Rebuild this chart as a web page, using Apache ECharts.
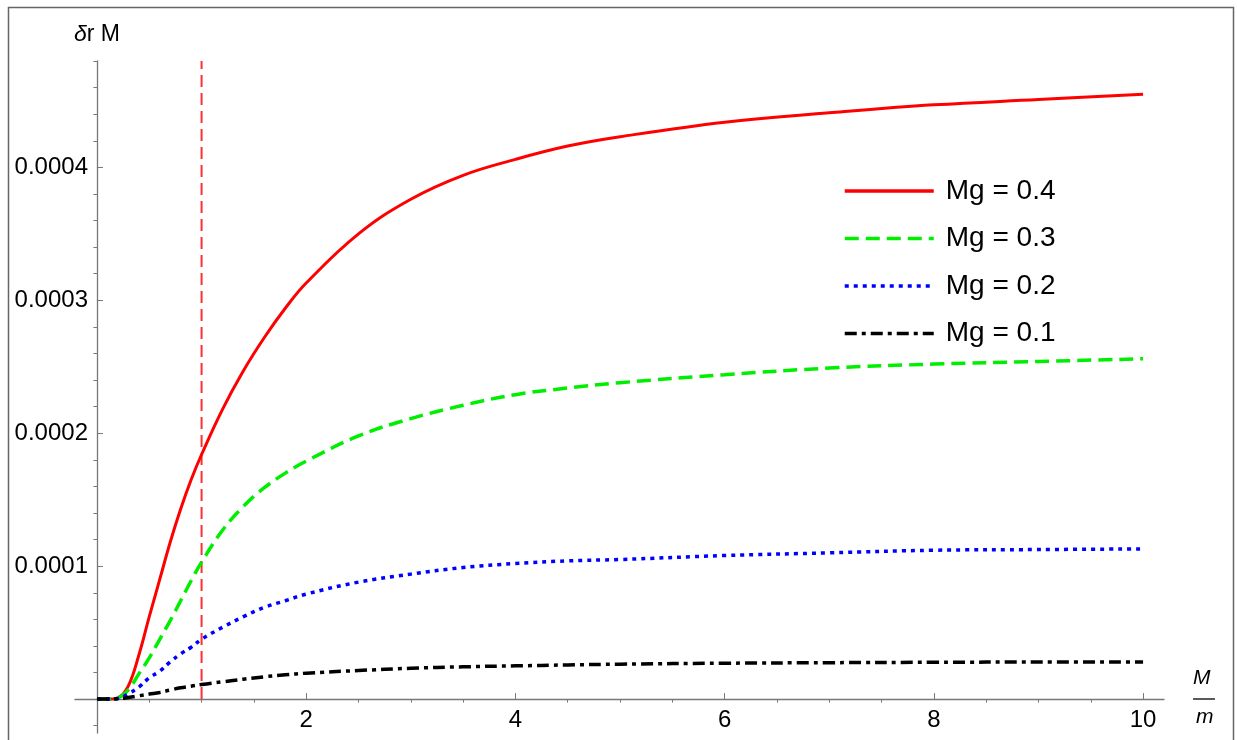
<!DOCTYPE html>
<html>
<head>
<meta charset="utf-8">
<title>δr M vs M/m</title>
<script src="https://cdn.jsdelivr.net/npm/echarts@6/dist/echarts.min.js"></script>
<style>
  html, body { margin: 0; padding: 0; background: #fff; }
  #charts { width: 1237px; height: 740px; }
</style>
</head>
<body>
<div id="charts"></div>
<script>
// x values (M/m)
var xs = [0, 0.1, 0.2, 0.3, 0.4, 0.5, 0.6, 0.7, 0.8, 0.9, 1.0, 1.2, 1.4, 1.6, 1.8, 2.0,
  2.5, 3.0, 3.5, 4.0, 4.5, 5.0, 6.0, 7.0, 8.0, 9.0, 10.0];

// δr M for each Mg
var mg04 = [0, 0, 0.000001, 0.00001, 0.000033, 0.000062, 0.00009, 0.000118, 0.000143, 0.000165,
  0.000184, 0.000218, 0.000247, 0.000272, 0.000294, 0.000313,
  0.00035, 0.000376, 0.000394, 0.000406, 0.000416, 0.000423, 0.000434, 0.000441, 0.000447, 0.000451, 0.000455];
var mg03 = [0, 0, 0.000001, 0.000007, 0.000019, 0.000031, 0.000045, 0.000059, 0.000074, 0.000089,
  0.000103, 0.000127, 0.000145, 0.000159, 0.00017, 0.000179,
  0.000198, 0.000211, 0.000221, 0.000229, 0.000234, 0.000238, 0.000244, 0.000249, 0.000252, 0.000254, 0.000256];
var mg02 = [0, 0, 0.0000005, 0.000004, 0.000009, 0.000016, 0.000021, 0.000028, 0.000034, 0.000039,
  0.000045, 0.000054, 0.000062, 0.000069, 0.000074, 0.000079,
  0.000088, 0.000094, 0.000099, 0.000102, 0.000104, 0.000105, 0.000108, 0.00011, 0.000112, 0.0001125, 0.000113];
var mg01 = [0, 0, 0.0000002, 0.0000012, 0.0000025, 0.0000038, 0.000005, 0.0000068, 0.0000085, 0.0000097,
  0.000011, 0.000013, 0.000015, 0.0000168, 0.0000183, 0.0000195,
  0.0000215, 0.0000232, 0.0000243, 0.000025, 0.0000257, 0.0000263, 0.000027, 0.0000274, 0.0000277, 0.0000279, 0.000028];

// vertical marker at M/m = 1
var markX = [1, 1];
var markY = [0, 0.00048];

// ticks
var xMajor = [2, 4, 6, 8, 10];
var xMinor = [0.5, 1, 1.5, 2.5, 3, 3.5, 4.5, 5, 5.5, 6.5, 7, 7.5, 8.5, 9, 9.5];
var yMajor = [0.0001, 0.0002, 0.0003, 0.0004];
var yMinor = [-0.00002, 0.00002, 0.00004, 0.00006, 0.00008, 0.00012, 0.00014, 0.00016, 0.00018,
  0.00022, 0.00024, 0.00026, 0.00028, 0.00032, 0.00034, 0.00036, 0.00038, 0.00042, 0.00044, 0.00046, 0.00048];

var names = ["Mg = 0.4", "Mg = 0.3", "Mg = 0.2", "Mg = 0.1"];

function pairs(a, b) {
  return a.map(function (v, i) { return [v, b[i]]; });
}

var font = "'Liberation Sans', Arial, sans-serif";
var axisColor = "#777";
var X_MIN = -0.21, X_MAX = 10.2, Y_MIN = -0.0000255, Y_MAX = 0.00048;

var charts = echarts.init(document.getElementById("charts"));

function curve(name, data, color, width, dash) {
  return {
    name: name,
    type: "line",
    data: data,
    smooth: 0.4,
    symbol: "none",
    showSymbol: false,
    lineStyle: { color: color, width: width, type: dash },
    itemStyle: { color: color },
    z: 3
  };
}

var option = {
  backgroundColor: "#fff",
  animation: false,
  textStyle: { fontFamily: font },
  grid: [
    // 坐标轴线 + 刻度 + 曲线
    { left: 75, right: 73, top: 61, bottom: 7, containLabel: false, outerBoundsMode: "none" },
    // 刻度标签 (x = 0 .. 10, y = 0 ..)
    { left: 97, right: 94, top: 61, bottom: 41, containLabel: false, outerBoundsMode: "none" }
  ],
  legend: {
    orient: "vertical",
    left: 838,
    top: 172,
    data: names,
    itemWidth: 89,
    itemHeight: 14,
    itemGap: 19.5,
    itemStyle: { opacity: 0 },
    lineStyle: { width: 3.5 },
    textStyle: { fontSize: 28, color: "#000", fontFamily: font, lineHeight: 27, padding: [0, 0, 0, 7] }
  },
  xAxis: [
    {
      type: "value",
      gridIndex: 0,
      min: X_MIN,
      max: X_MAX,
      splitLine: { show: false },
      axisLine: { show: true, onZero: true, onZeroAxisIndex: 0, lineStyle: { color: axisColor, width: 1.3 } },
      axisTick: { show: true, inside: true, length: 6, customValues: xMajor, lineStyle: { color: axisColor } },
      axisLabel: { show: false }
    },
    {
      type: "value",
      gridIndex: 0,
      min: X_MIN,
      max: X_MAX,
      splitLine: { show: false },
      axisLine: { show: false, onZero: true, onZeroAxisIndex: 0 },
      axisTick: { show: true, inside: true, length: 3.5, customValues: xMinor, lineStyle: { color: axisColor } },
      axisLabel: { show: false }
    },
    {
      type: "value",
      gridIndex: 1,
      min: 0,
      max: 10,
      splitLine: { show: false },
      axisLine: { show: false, onZero: false },
      axisTick: { show: false },
      axisLabel: { show: true, customValues: xMajor, margin: 9, fontSize: 24, color: "#000", fontFamily: font }
    }
  ],
  yAxis: [
    {
      type: "value",
      gridIndex: 0,
      min: Y_MIN,
      max: Y_MAX,
      splitLine: { show: false },
      axisLine: { show: true, onZero: true, onZeroAxisIndex: 0, lineStyle: { color: axisColor, width: 1.3 } },
      axisTick: { show: true, inside: true, length: 6, customValues: yMajor, lineStyle: { color: axisColor } },
      axisLabel: { show: false }
    },
    {
      type: "value",
      gridIndex: 0,
      min: Y_MIN,
      max: Y_MAX,
      splitLine: { show: false },
      axisLine: { show: false, onZero: true, onZeroAxisIndex: 0 },
      axisTick: { show: true, inside: true, length: 3.5, customValues: yMinor, lineStyle: { color: axisColor } },
      axisLabel: { show: false }
    },
    {
      type: "value",
      gridIndex: 1,
      min: 0,
      max: Y_MAX,
      splitLine: { show: false },
      axisLine: { show: false, onZero: false },
      axisTick: { show: false },
      axisLabel: {
        show: true, customValues: yMajor, margin: 9, fontSize: 24, color: "#000", fontFamily: font,
        formatter: function (v) { return v.toFixed(4); }
      },
      name: "{i|δ}r M",
      nameLocation: "end",
      nameGap: 15,
      nameTextStyle: {
        fontSize: 23, color: "#000", fontFamily: font,
        rich: { i: { fontStyle: "italic", fontSize: 23, fontFamily: font, color: "#000" } }
      }
    }
  ],
  series: [
    curve(names[0], pairs(xs, mg04), "#ff0000", 3, "solid"),
    curve(names[1], pairs(xs, mg03), "#00ee00", 3.5, [14, 7]),
    curve(names[2], pairs(xs, mg02), "#0000ff", 3.5, [4, 5]),
    curve(names[3], pairs(xs, mg01), "#000000", 3.5, [12, 5, 4, 5]),
    {
      // 竖直虚线 M/m = 1
      name: "marker",
      type: "line",
      data: pairs(markX, markY),
      symbol: "none",
      silent: true,
      lineStyle: { color: "#ff3030", width: 2, type: [12, 6] },
      z: 2
    }
  ],
  graphic: [
    {
      // 外框
      type: "rect",
      shape: { x: 8.5, y: 7.5, width: 1225, height: 800 },
      style: { fill: "none", stroke: "#666", lineWidth: 1.5 },
      silent: true
    },
    {
      type: "text",
      left: 1193, top: 668,
      style: { text: "M", font: "italic 21px " + font, fill: "#000" }
    },
    {
      type: "line",
      shape: { x1: 1193, y1: 699, x2: 1215, y2: 699 },
      style: { stroke: "#000", lineWidth: 1.3 }
    },
    {
      type: "text",
      left: 1196, top: 707,
      style: { text: "m", font: "italic 21px " + font, fill: "#000" }
    }
  ]
};

charts.setOption(option);
</script>
</body>
</html>
